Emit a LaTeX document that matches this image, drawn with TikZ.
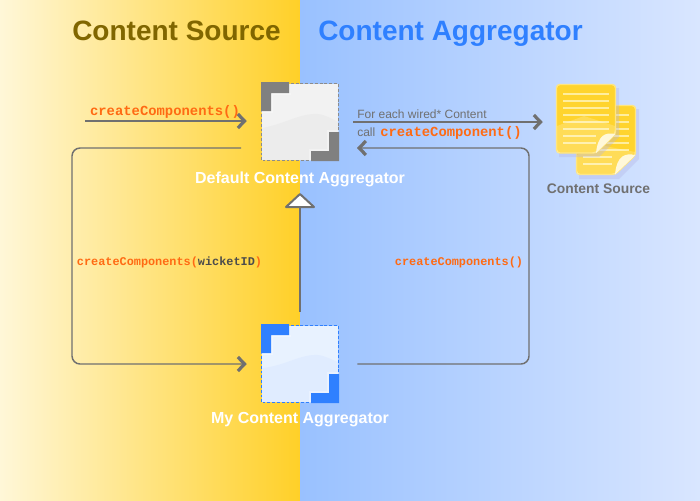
\documentclass[tikz,border=0pt]{standalone}
\usepackage{fontspec}
\setmainfont{Liberation Sans}
\setmonofont{Liberation Mono}
\usetikzlibrary{arrows.meta}

\definecolor{srctitle}{HTML}{806600}
\definecolor{aggtitle}{HTML}{2F80FF}
\definecolor{flowgray}{HTML}{707070}
\definecolor{codeorange}{HTML}{FF6A13}
\definecolor{pageyellow}{HTML}{FFD42E}
\definecolor{pageedge}{HTML}{FFE680}
\definecolor{pageline}{HTML}{FFEE9E}
\definecolor{mywave}{HTML}{E0ECFF}
\definecolor{mytop}{HTML}{E8F2FF}

\tikzset{
  flowline/.style={draw=flowgray, line width=1.1pt},
  flowarrow/.style={flowline, -{Straight Barb[length=5pt,width=10.5pt,line width=2.4pt]}},
  panelhead/.style={font=\fontsize{21}{24}\bfseries\selectfont, inner sep=0pt, anchor=base west},
  whitelabel/.style={font=\fontsize{12}{14}\bfseries\selectfont, text=white, inner sep=0pt, anchor=base},
  codebig/.style={font=\fontsize{10.4}{12}\ttfamily\bfseries\selectfont, text=codeorange, inner sep=0pt},
  codesmall/.style={font=\fontsize{8.9}{11}\ttfamily\bfseries\selectfont, text=codeorange, inner sep=0pt},
  plainnote/.style={font=\fontsize{9}{11}\selectfont, text=flowgray, inner sep=0pt},
  aggbox/.style={minimum size=57pt, inner sep=0pt},
  boxrim/.style={dash pattern=on 2.2pt off 1.4pt, line width=.7pt},
  pagesheet/.style={fill=pageyellow, draw=pageedge, line width=1.1pt, line join=round}
}

\begin{document}
\begin{tikzpicture}[x=0.75pt, y=-0.75pt]
  \useasboundingbox (0,0) rectangle (700,500);
  \shade[left color={rgb,255:red,255;green,247;blue,216}, right color={rgb,255:red,255;green,208;blue,40}] (0,0) rectangle (300,500);
  \shade[left color={rgb,255:red,153;green,193;blue,255}, right color={rgb,255:red,217;green,230;blue,255}] (300,0) rectangle (700,500);

  \node[panelhead, text=srctitle] (srchead) at (72,40) {Content Source};
  \node[panelhead, text=aggtitle] (agghead) at (318,40) {Content Aggregator};

  % default aggregator
  \node[aggbox, fill=black!5] (defaultagg) at (300,122) {};
  \fill[black!7.5] (262,128) .. controls (285,124) and (300,113) .. (318,114) .. controls (326,115) and (332,119) .. (338,122) -- (338,160) -- (262,160) -- cycle;
  \draw[gray!90, boxrim] (defaultagg.south west) rectangle (defaultagg.north east);
  \fill[white, opacity=.35] (271,95) -- (291,95) -- (291,93) -- (271,93) -- cycle (273,95) -- (273,113) -- (261,113) -- (261,111) -- (271,111) -- (271,95) -- cycle;
  \fill[white, opacity=.35] (327,149) -- (327,130) -- (339,130) -- (339,132) -- (329,132) -- (329,151) -- (311,151) -- (311,161) -- (309,161) -- (309,149) -- cycle;
  \fill[black!50] (261,82) -- (289,82) -- (289,93) -- (271,93) -- (271,111) -- (261,111) -- cycle;
  \fill[black!50] (339,132) -- (339,161) -- (311,161) -- (311,151) -- (329,151) -- (329,132) -- cycle;
  \node[whitelabel] (defaultname) at (300,183) {Default Content Aggregator};

  % my aggregator
  \node[aggbox, fill=mytop] (myagg) at (300,364) {};
  \fill[mywave] (262,368) .. controls (285,366) and (300,354) .. (318,355) .. controls (326,356) and (332,360) .. (338,362) -- (338,402) -- (262,402) -- cycle;
  \draw[aggtitle, boxrim] (myagg.south west) rectangle (myagg.north east);
  \fill[white, opacity=.35] (271,337) -- (291,337) -- (291,335) -- (271,335) -- cycle (273,337) -- (273,355) -- (261,355) -- (261,353) -- (271,353) -- (271,337) -- cycle;
  \fill[white, opacity=.35] (327,391) -- (327,372) -- (339,372) -- (339,374) -- (329,374) -- (329,393) -- (311,393) -- (311,403) -- (309,403) -- (309,391) -- cycle;
  \fill[aggtitle] (261,324) -- (289,324) -- (289,335) -- (271,335) -- (271,353) -- (261,353) -- cycle;
  \fill[aggtitle] (339,374) -- (339,403) -- (311,403) -- (311,393) -- (329,393) -- (329,374) -- cycle;
  \node[whitelabel] (myname) at (300,423) {My Content Aggregator};

  % content source pages
  \node[minimum width=60pt, minimum height=68.25pt, inner sep=0pt] (sourcedoc) at (596,129.5) {};
  \fill[black!35!blue!30, opacity=.35] (579,109) -- (639,109) -- (639,159) -- (619,179) -- (579,179) -- cycle;
  \draw[pagesheet, rounded corners=2.5pt] (576.5,105.5) -- (635.5,105.5) -- (635.5,155) -- (615,174.5) -- (576.5,174.5) -- cycle;
  \foreach \liney in {115,122,...,150} \draw[pageline, line width=1.1pt] (583,\liney) -- (629,\liney);
  \foreach \liney in {157,164} \draw[pageline, line width=1.1pt] (583,\liney) -- (612,\liney);
  \fill[white, opacity=.2] (577,155) -- (600,145) -- (635,152) -- (615,174) -- (577,174) -- cycle;
  \fill[pageedge!30!white] (635.5,155) .. controls (625,153) and (617,155) .. (615,174.5) -- cycle;
  \fill[black!35!blue!30, opacity=.35] (559,88) -- (619,88) -- (619,137) -- (599,157) -- (559,157) -- cycle;
  \draw[pagesheet, rounded corners=2.5pt] (556.5,84.5) -- (615.5,84.5) -- (615.5,134) -- (596,153) -- (556.5,153) -- cycle;
  \foreach \liney in {94,101,...,129} \draw[pageline, line width=1.1pt] (563,\liney) -- (609,\liney);
  \foreach \liney in {136,143} \draw[pageline, line width=1.1pt] (563,\liney) -- (596,\liney);
  \fill[white, opacity=.2] (557,126) -- (584,116) -- (615,126) -- (615,134) -- (596,152.5) -- (557,152.5) -- cycle;
  \fill[pageedge!30!white] (615.5,134) .. controls (605,132) and (598,135) .. (596,153) -- cycle;
  \node[font=\fontsize{10.4}{12}\bfseries\selectfont, text=flowgray, inner sep=0pt, anchor=base] (sourcename) at (598.5,193) {Content Source};

  % connectors
  \coordinate (callin) at (85,121);
  \coordinate (loopleft) at (241,148);
  \coordinate (loopright) at (357,148);
  \coordinate (inheritbase) at (300,207);
  \draw[flowarrow, shorten >=11.25pt] (callin) -- (callin -| defaultagg.west);
  \draw[flowarrow, shorten <=11.25pt, shorten >=9.75pt] (defaultagg.east) -- (defaultagg.east -| sourcedoc.west);
  \draw[flowarrow, rounded corners=6pt, shorten >=11.25pt] (loopleft) -- (72,148) -- (72,364) -- (myagg.west);
  \draw[flowarrow, rounded corners=6pt, shorten <=14.25pt] (myagg.east) -- (529,364) -- (529,148) -- (loopright);
  \draw[flowline, line width=1.5pt, shorten <=10.5pt] (myagg.north) -- (inheritbase);
  \draw[draw=flowgray, fill=white, line width=1.5pt, line join=round] (inheritbase) -- ++(-14,0) -- ++(14,-13) -- ++(14,13) -- cycle;

  \node[codebig] (calllabel) at (165,111.5) {createComponents()};
  \node[plainnote, anchor=west] (wirednote) at (357,114.5) {For each wired* Content};
  \node[plainnote, anchor=west] (callnote) at (357,132) {call};
  \node[codebig, anchor=west] (calllabelb) at (380,132.5) {createComponent()};
  \node[codesmall] (looplabel) at (169.5,262) {createComponents(\textcolor{black!70}{wicketID})};
  \node[codesmall] (backlabel) at (459,262) {createComponents()};
\end{tikzpicture}
\end{document}
